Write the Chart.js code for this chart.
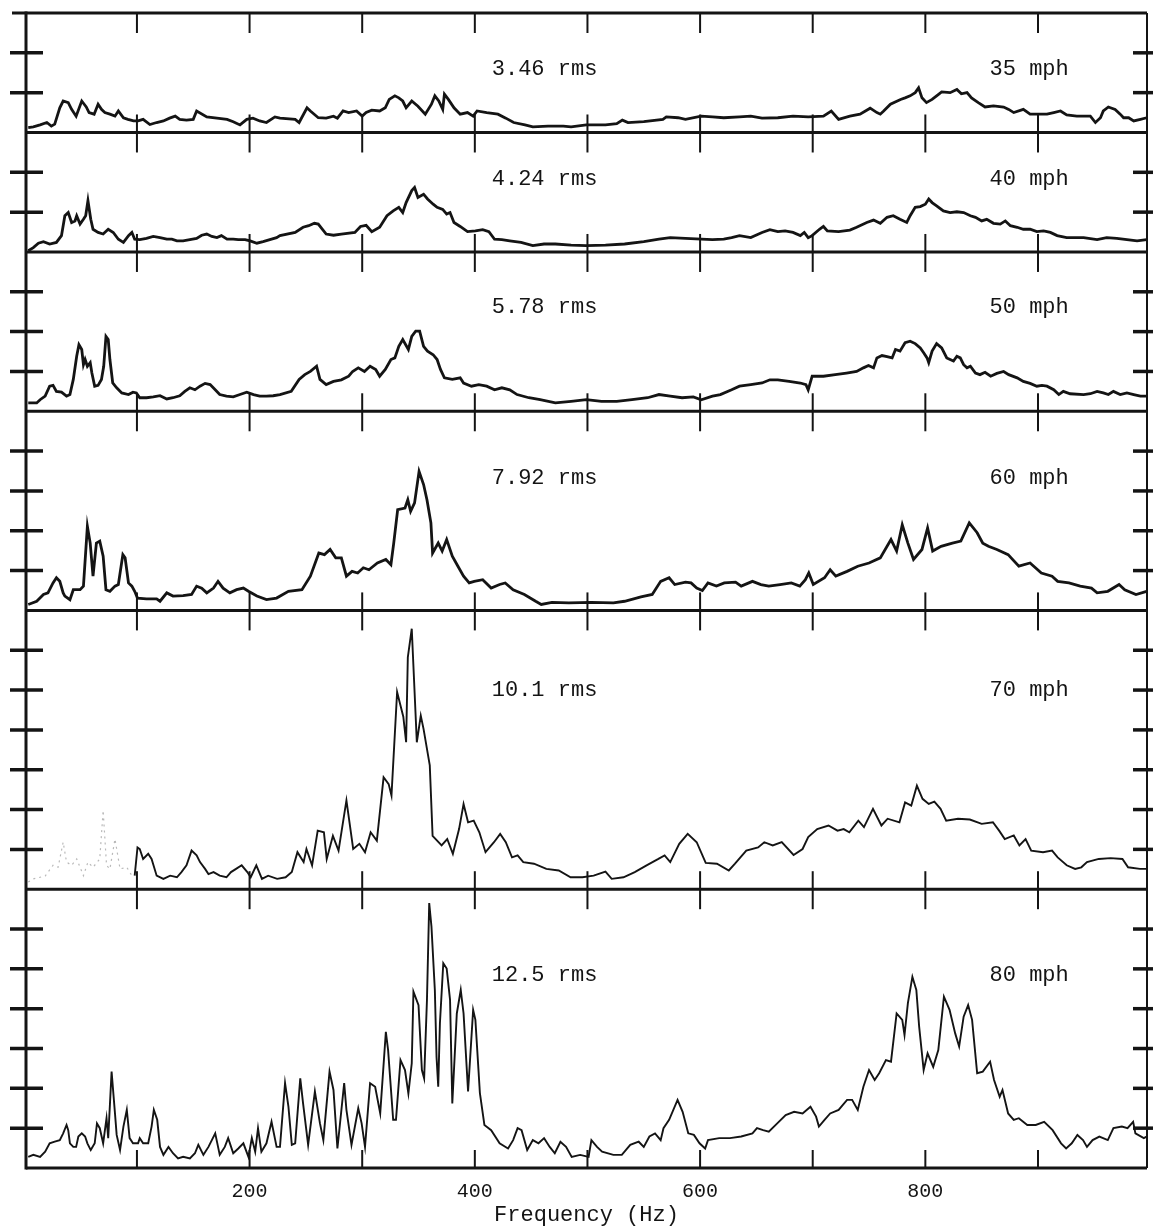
<!DOCTYPE html>
<html>
<head>
<meta charset="utf-8">
<title>Vibration spectra</title>
<script src="https://cdn.jsdelivr.net/npm/chart.js@4.4.1/dist/chart.umd.min.js"></script>
<style>
  html, body { margin: 0; padding: 0; background: #fff; }
  canvas { display: block; }
</style>
</head>
<body>
<canvas id="spectra" width="1153" height="1229"></canvas>
<script>
// One trace per road speed: [frequency (Hz), amplitude in chart divisions]
const trace35 = [[3.5,0.12],[8,0.14],[14,0.19],[20,0.25],[24,0.16],[27,0.21],[31.5,0.62],[34.5,0.79],[39,0.75],[42,0.58],[46,0.41],[51,0.79],[55,0.64],[57.5,0.5],[62,0.46],[65.5,0.71],[68.5,0.58],[71.5,0.5],[76,0.46],[80.5,0.41],[83.5,0.54],[88,0.37],[92,0.33],[97,0.29],[101,0.29],[105.5,0.33],[111.5,0.2],[117.5,0.25],[123.5,0.29],[129,0.36],[134,0.41],[138,0.33],[144,0.31],[150,0.33],[153,0.54],[162,0.39],[171,0.36],[180,0.33],[185.5,0.27],[191.5,0.19],[197.5,0.33],[203,0.36],[209,0.29],[215,0.25],[222.5,0.39],
  [227,0.36],[240.5,0.33],[244,0.25],[251,0.62],[254,0.54],[261,0.37],[268,0.36],[274.5,0.41],[278,0.36],[283,0.54],[288,0.5],[295,0.54],[300,0.41],[303.5,0.5],[308.5,0.56],[315.5,0.54],[320.5,0.62],[324,0.83],[329,0.92],[332.5,0.87],[336,0.79],[339,0.62],[344,0.79],[349.5,0.66],[356,0.46],[361.5,0.71],[364.5,0.92],[368,0.79],[371.5,0.58],[373,0.96],[376.5,0.83],[381.5,0.62],[387,0.46],[393.5,0.5],[398.5,0.41],[402,0.54],[410.5,0.5],[420.5,0.46],[427.5,0.36],[434.5,0.25],[444.5,0.19],[451.5,0.14],[465,0.16],[478.5,0.16],[485.5,0.14],[499,0.19],[516,0.19],[526,0.22],[531,0.31],[536,0.25],[550,0.27],[567,0.33],[570,0.39],[580.5,0.37],[587,0.33],[601,0.41],[611,0.39],[621,0.37],[635,0.39],[645,0.41],[655,0.36],[669,0.37],[682.5,0.41],[696,0.39],[709.5,0.41],[716.5,0.54],[723,0.33],
  [733,0.41],[742,0.46],[751,0.61],[757,0.5],[760,0.46],[763,0.54],[769,0.71],[778,0.83],[782,0.87],[786.5,0.92],[791,1.0],[794,1.12],[797,0.87],[801,0.75],[806,0.83],[810,0.92],[814.5,1.02],[822,1.0],[828,1.08],[832,0.97],[837,1.0],[841,0.87],[847,0.75],[853,0.64],[860.5,0.67],[869.5,0.64],[874,0.58],[878.5,0.5],[887,0.58],[893,0.46],[902,0.46],[908,0.46],[914,0.5],[920,0.54],[925.5,0.44],[934.5,0.41],[946.5,0.41],[951,0.25],[955.5,0.37],[958,0.54],[962.5,0.64],[968.5,0.58],[973,0.46],[976,0.37],[980.5,0.37],[985,0.29],[991,0.33],[996.5,0.37]];

const trace40 = [[3.5,0.03],[8,0.11],[12.5,0.22],[17,0.26],[22.5,0.2],[28.5,0.24],[33,0.41],[36,0.91],[39,0.99],[42,0.74],[45,0.78],[46.5,0.91],[49.5,0.7],[52.5,0.82],[54.5,0.91],[56.5,1.29],[59,0.82],[61,0.57],[65.5,0.49],[70,0.45],[74.5,0.57],[79,0.49],[83.5,0.32],[88,0.24],[92.5,0.41],[95.5,0.49],[98,0.32],[102.5,0.31],[108.5,0.34],[114.5,0.39],[120.5,0.36],[126.5,0.32],[131,0.32],[135.5,0.28],[141,0.28],[147,0.31],[153,0.34],[157.5,0.42],[162,0.45],[166.5,0.39],[171,0.36],[175,0.41],[180,0.32],[185.5,0.32],[190,0.31],[196,0.31],[200.5,0.28],[206.5,0.22],[212,0.26],[218,0.31],[224,0.36],
  [227,0.41],[240.5,0.49],[247.5,0.62],[252.5,0.66],[257.5,0.72],[261,0.7],[268,0.45],[274.5,0.42],[281.5,0.45],[293.5,0.49],[298.5,0.64],[303.5,0.67],[308.5,0.51],[315.5,0.62],[322,0.91],[327.5,1.03],[332.5,1.12],[336,0.99],[339,1.24],[344,1.54],[346.5,1.62],[349.5,1.37],[354.5,1.45],[358,1.33],[363,1.2],[366.5,1.12],[371.5,1.07],[375,0.95],[378,0.99],[381.5,0.74],[387,0.64],[393.5,0.51],[400.5,0.53],[407,0.56],[412.5,0.51],[417.5,0.32],[424,0.31],[431,0.28],[441,0.24],[451.5,0.16],[461.5,0.2],[471.5,0.2],[485.5,0.17],[499,0.16],[516,0.17],[533,0.2],[550,0.26],[563.5,0.32],[573.5,0.36],[587,0.34],[601,0.32],[611,0.31],[621,0.32],[628,0.36],[635,0.41],[645,0.36],[655,0.49],[662,0.56],[669,0.51],[675.5,0.53],[682.5,0.49],[689,0.41],[692.5,0.49],[696,0.36],[699.5,0.41],[706,0.57],[709.5,0.64],[713,0.53],[723,0.51],
  [733,0.55],[739,0.62],[748,0.74],[754,0.8],[760,0.72],[766,0.87],[771.5,0.91],[777.5,0.82],[783.5,0.74],[786.5,0.91],[791,1.12],[795.5,1.14],[800,1.2],[803,1.33],[806,1.24],[810,1.16],[816,1.03],[822,0.99],[828,1.01],[834,0.99],[840,0.91],[844.5,0.87],[850,0.78],[854.5,0.82],[860.5,0.72],[866.5,0.7],[871,0.78],[875.5,0.66],[881.5,0.62],[887,0.57],[893,0.57],[899,0.51],[905,0.53],[911,0.49],[917,0.41],[925.5,0.36],[940.5,0.36],[952.5,0.31],[961,0.36],[970,0.34],[979,0.31],[988,0.28],[996.5,0.31]];

const trace50 = [[3.5,0.21],[11,0.21],[14,0.29],[18.5,0.38],[22.5,0.63],[25.5,0.65],[28.5,0.5],[33,0.48],[37.5,0.38],[40.5,0.42],[43.5,0.8],[46.5,1.38],[48.5,1.67],[51,1.55],[52.5,1.17],[54,1.3],[56,1.13],[58.5,1.22],[60,0.96],[62.5,0.63],[65.5,0.65],[68.5,0.8],[70.5,1.13],[72.5,1.88],[74.5,1.8],[76,1.3],[78.5,0.71],[82,0.59],[86.5,0.46],[92.5,0.42],[96.5,0.48],[99.5,0.46],[102.5,0.34],[108.5,0.34],[114.5,0.36],[120.5,0.39],[126.5,0.31],[132,0.34],[138,0.39],[142.5,0.5],[147,0.59],[151.5,0.54],[156,0.63],[160.5,0.7],[165,0.67],[169.5,0.54],[173.5,0.42],[179.5,0.38],[185.5,0.36],[191.5,0.42],[197.5,0.48],[203.5,0.42],[209,0.38],[215,0.38],[221,0.39],
  [227,0.42],[237,0.5],[244,0.8],[249,0.92],[254,1.0],[259.5,1.13],[262.5,0.8],[268,0.67],[274.5,0.75],[281.5,0.79],[288,0.88],[291.5,1.0],[296.5,1.09],[302,1.0],[307,1.13],[312,1.05],[315.5,0.88],[320.5,1.05],[325.5,1.3],[329,1.34],[332.5,1.63],[336,1.8],[341,1.55],[344,1.88],[347.5,2.01],[351,2.01],[354.5,1.63],[358,1.51],[363,1.42],[366.5,1.3],[369.5,1.05],[373,0.84],[380,0.8],[387,0.84],[390,0.71],[397,0.63],[403.5,0.67],[410.5,0.63],[417.5,0.54],[424,0.59],[431,0.54],[437.5,0.42],[448,0.34],[458,0.29],[471.5,0.21],[485.5,0.25],[499,0.29],[512.5,0.25],[526,0.25],[539.5,0.29],[553.5,0.34],[563.5,0.42],[573.5,0.38],[584,0.34],[594,0.36],[601,0.29],[611,0.38],[618,0.42],[628,0.54],[635,0.63],[645,0.67],[655,0.71],[662,0.79],[669,0.79],[679,0.75],[689,0.71],[694,0.67],[696,0.54],[699.5,0.88],[709.5,0.88],[720,0.92],[730,0.96],
  [739,1.0],[745,1.09],[749.5,1.15],[754,1.09],[757,1.34],[761.5,1.4],[766,1.37],[770.5,1.34],[773.5,1.55],[777.5,1.51],[782,1.72],[786.5,1.76],[791,1.7],[795.5,1.59],[798.5,1.47],[801.5,1.34],[803,1.22],[806,1.51],[810,1.7],[814.5,1.59],[819,1.34],[822,1.3],[825,1.26],[828,1.38],[831,1.34],[834,1.17],[837,1.09],[840,1.13],[844.5,0.96],[848.5,0.92],[853,0.98],[858,0.88],[863.5,0.95],[869.5,1.0],[874,0.92],[881.5,0.84],[887,0.75],[893,0.7],[899,0.63],[903.5,0.65],[908,0.63],[914,0.54],[918.5,0.42],[922.5,0.5],[928.5,0.44],[940.5,0.42],[946.5,0.44],[952.5,0.5],[958,0.46],[962.5,0.42],[967,0.5],[973,0.42],[979,0.46],[985,0.42],[991,0.38],[996.5,0.38]];

const trace60 = [[3.5,0.15],[11,0.23],[17,0.4],[21,0.44],[25.5,0.69],[28.5,0.82],[31.5,0.73],[34.5,0.44],[36,0.36],[40.5,0.27],[43.5,0.52],[49.5,0.52],[52.5,0.61],[56,2.11],[58.5,1.69],[61,0.86],[64,1.69],[67,1.74],[70,1.36],[72.5,0.52],[76,0.48],[80.5,0.61],[83.5,0.65],[87.5,1.4],[89.5,1.32],[92.5,0.69],[95.5,0.61],[98,0.48],[100.5,0.31],[108.5,0.29],[117.5,0.29],[120.5,0.23],[126.5,0.44],[132,0.36],[141,0.37],[148.5,0.4],[153,0.61],[157.5,0.56],[162,0.44],[168,0.56],[172,0.73],[176.5,0.56],[182.5,0.44],[188.5,0.52],[194.5,0.56],[199,0.48],[206.5,0.36],[215,0.27],[224,0.31],
  [234.5,0.48],[246.5,0.52],[254,0.86],[261.5,1.44],[266.5,1.4],[271.5,1.53],[276.5,1.32],[281.5,1.32],[286,0.86],[291,0.98],[296,0.94],[301,1.07],[306,1.02],[313.5,1.19],[321,1.28],[325.5,1.15],[328,1.69],[331.5,2.53],[338,2.57],[340.5,2.78],[343,2.49],[346.5,2.7],[350.5,3.49],[354.5,3.16],[357.5,2.78],[361,2.2],[362.5,1.44],[367.5,1.69],[371,1.49],[375,1.78],[380,1.36],[385,1.11],[390,0.86],[395,0.69],[399.5,0.73],[407,0.77],[414.5,0.56],[422,0.65],[427,0.69],[434,0.52],[444,0.4],[454,0.23],[459,0.15],[468.5,0.2],[483.5,0.19],[503.5,0.2],[523,0.19],[533,0.23],[547.5,0.34],[557.5,0.4],[565,0.73],[572.5,0.82],[577.5,0.65],[587,0.71],[592,0.69],[597,0.56],[602,0.5],[607,0.69],[614.5,0.61],[621.5,0.69],[631.5,0.71],[636.5,0.61],[646.5,0.73],[654,0.65],[661,0.61],[671,0.65],[681,0.69],[688.5,0.61],[693.5,0.77],[696.5,0.94],[700.5,0.65],[710.5,0.82],[715.5,1.02],[720.5,0.86],[730.5,0.98],[740,1.11],[750,1.19],[760,1.32],[769.5,1.78],[774.5,1.49],[779.5,2.15],[784.5,1.69],[789.5,1.28],[797,1.53],[802,2.07],[806.5,1.49],[814,1.61],[824,1.69],[831.5,1.74],[839,2.2],[846,1.95],[851,1.69],[856,1.61],[863.5,1.53],[873.5,1.4],[883,1.11],[893,1.19],[903,0.94],[912.5,0.86],[917.5,0.73],[927.5,0.69],[937.5,0.61],[947.5,0.56],[952.5,0.44],[962,0.48],[972,0.65],[977,0.52],[987,0.4],[996.5,0.48]];

const trace70 = [[3.5,0.18],[8,0.26],[14,0.3],[18.5,0.33],[25.5,0.6],[30,0.55],[34.5,1.18],[37.5,0.68],[42,0.6],[46.5,0.76],[52.5,0.34],[56.5,0.68],[61,0.55],[67,0.76],[70,1.98],[73,0.6],[76,0.51],[80.5,1.26],[85,0.51],[91,0.55],[95.5,0.34],[98,0.34],[100.5,1.05],[102.5,1.01],[105.5,0.76],[110,0.89],[113,0.76],[117.5,0.34],[123.5,0.26],[129.5,0.34],[135.5,0.3],[139.5,0.43],[144,0.6],[148.5,0.97],[153,0.85],[156,0.68],[160.5,0.51],[163.5,0.38],[168,0.43],[173.5,0.34],[179.5,0.3],
  [183.5,0.43],[188,0.51],[193,0.6],[198,0.43],[201,0.3],[206,0.6],[211,0.26],[216.5,0.34],[224.5,0.26],[232,0.3],[237.5,0.43],[242.5,0.93],[248,0.68],[250.5,1.01],[255.5,0.6],[260.5,1.47],[266,1.43],[268.5,0.76],[274,1.34],[279,0.97],[286,2.23],[292,1.01],[297.5,1.14],[302.5,0.93],[307.5,1.43],[313,1.22],[319,2.81],[323.5,2.64],[326,2.35],[331,4.95],[336.5,4.33],[339,3.69],[340.5,5.82],[344,6.54],[348.5,3.69],[352,4.36],[354.5,4.02],[360,3.11],[362.5,1.34],[370.5,1.1],[375.5,1.26],[380.5,0.89],[386,1.51],[390,2.14],[394,1.68],[399,1.72],[404,1.43],[409.5,0.93],[417,1.18],[422.5,1.39],[427.5,1.18],[433,0.8],[438,0.85],[443,0.68],[452.5,0.64],[463.5,0.51],[474.5,0.47],[485,0.3],[495.5,0.3],[505.5,0.34],[516,0.44],[521.5,0.26],[532,0.3],[542,0.43],[552.5,0.6],[563,0.76],[568.5,0.85],[573.5,0.68],[581.5,1.14],[589,1.39],[597,1.18],[605,0.66],[615,0.64],[625.5,0.47],[631,0.64],[641,0.97],[651.5,1.05],[657,1.18],[664.5,1.1],[672.5,1.18],[683,0.86],[691,1.01],[696,1.31],[704,1.51],[714,1.6],[722,1.47],[727.5,1.51],[732.5,1.43],[740.5,1.72],[745.5,1.56],[753.5,2.02],[761,1.6],[766.5,1.77],[777,1.68],[782,2.18],[787.5,2.1],[792.5,2.6],[797.5,2.27],[803,2.14],[808,2.2],[813.5,2.02],[818.5,1.72],[829,1.77],[839.5,1.75],[850,1.64],[860,1.68],[865.5,1.47],[870.5,1.26],[878.5,1.35],[883.5,1.1],[889,1.26],[894,0.97],[904.5,0.93],[912.5,0.97],[917.5,0.8],[925.5,0.6],[933,0.51],[938.5,0.55],[943.5,0.68],[954,0.76],[964.5,0.78],[975,0.76],[980,0.55],[990.5,0.51],[996.5,0.51]];

const trace80 = [[3.5,0.28],[8,0.33],[14,0.28],[18.5,0.41],[22.5,0.62],[27,0.66],[31.5,0.7],[34.5,0.87],[37.5,1.08],[39,0.95],[40.5,0.62],[43.5,0.53],[46,0.53],[48,0.79],[51,0.87],[54,0.79],[56,0.62],[59,0.45],[62.5,0.62],[64.5,1.12],[67,1.0],[70,0.62],[73,1.25],[74.5,0.75],[77.5,2.42],[80.5,1.37],[82,0.83],[85,0.45],[88,1.04],[91,1.46],[93.5,0.75],[96.5,0.62],[101,0.62],[102.5,0.75],[105.5,0.62],[110,0.62],[113,1.04],[115,1.46],[118,1.21],[120.5,0.53],[123.5,0.33],[128,0.53],[132,0.37],[136.5,0.24],[141,0.28],[147,0.24],[151.5,0.37],[154.5,0.58],[159,0.33],[163.5,0.53],[169.5,0.87],[173.5,0.33],[178,0.53],[181,0.75],[185.5,0.37],[190,0.49],[194.5,0.62],[199,0.28],[202,0.75],[205,0.41],[207.5,1.0],[210.5,0.41],[215,0.62],[219.5,1.16],[224,0.53],
  [227,0.53],[231.5,2.13],[234.5,1.54],[237.5,0.58],[240.5,0.62],[245,2.25],[247.5,1.62],[252,0.58],[258,1.92],[262.5,1.12],[265.5,0.7],[271,2.42],[274.5,1.96],[278,0.49],[284,2.13],[286,1.46],[290.5,0.58],[296.5,1.5],[299.5,1.12],[302.5,0.53],[307,2.13],[311.5,2.04],[316,1.37],[321,3.42],[323,2.96],[327.5,1.21],[330,1.21],[334,2.71],[338,2.46],[341,1.87],[344,2.63],[345.5,4.43],[350,4.09],[353,2.46],[355,2.25],[357.5,4.22],[359.5,6.65],[361.5,6.06],[364.5,4.47],[366,2.79],[367.5,2.04],[369,3.63],[372,5.14],[375,5.01],[378,4.22],
  [380,1.62],[384,3.88],[387.5,4.47],[390,3.88],[394,1.92],[398.5,3.97],[400.5,3.72],[404.5,1.88],[408.5,1.08],[414.5,0.95],[422,0.62],[429.5,0.49],[434,0.7],[438,1.0],[441.5,0.95],[446.5,0.45],[451.5,0.7],[456.5,0.62],[461.5,0.75],[466.5,0.53],[471,0.37],[476,0.66],[481,0.53],[486,0.28],[493.5,0.33],[501,0.28],[503.5,0.7],[508.5,0.53],[513,0.41],[523,0.33],[530.5,0.33],[538,0.58],[545.5,0.66],[550,0.53],[555,0.79],[560,0.87],[565,0.7],[567.5,1.0],[572.5,1.21],[580,1.71],[584.5,1.41],[589.5,0.87],[594.5,0.83],[599.5,0.62],[604.5,0.49],[607,0.7],[617,0.75],[626.5,0.75],[636.5,0.79],[646.5,0.87],[650.5,1.0],[656,0.95],[661,0.91],[668.5,1.12],[676,1.33],[683.5,1.41],[691,1.37],[698,1.54],[703,1.29],[705.5,1.04],[710.5,1.21],[715.5,1.37],[723,1.46],[730.5,1.71],[735,1.71],[740,1.46],[745,2.04],[750,2.46],[755,2.21],[759,2.38],[765,2.71],[769.5,2.67],[774.5,3.88],[779.5,3.72],[781.5,3.34],[784.5,4.14],[788.5,4.8],[792,4.47],[794.5,3.55],[798.5,2.46],[802,2.88],[807,2.54],[811.5,2.96],[816.5,4.3],[821.5,3.97],[826.5,3.38],[830,3.05],[834,3.8],[838,4.09],[841.5,3.72],[846,2.38],[851,2.42],[857.5,2.67],[861,2.21],[866,1.79],[868.5,1.96],[873.5,1.37],[878.5,1.21],[883,1.25],[890.5,1.08],[898,1.08],[905.5,1.16],[913,0.95],[920.5,0.62],[925,0.49],[930,0.62],[935,0.83],[940,0.7],[943.5,0.53],[948.5,0.7],[954.5,0.79],[962,0.7],[967,1.0],[974.5,1.04],[979.5,1.0],[984.5,1.16],[986.5,0.87],[994,0.75],[996.5,0.79]];

const speeds = ['35 mph', '40 mph', '50 mph', '60 mph', '70 mph', '80 mph'];
const rmsLevels = ['3.46 rms', '4.24 rms', '5.78 rms', '7.92 rms', '10.1 rms', '12.5 rms'];
const panelDivisions = [3, 3, 4, 5, 7, 7];
const freqTicks = [100, 200, 300, 400, 500, 600, 700, 800, 900];
const freqLabels = [200, 400, 600, 800];

const traces = [trace35, trace40, trace50, trace60, trace70, trace80];

// where the caption text sits in each panel, in divisions above the baseline
const captionLevel = [1.44, 1.69, 2.48, 3.18, 4.85, 4.69];
// the 70 mph trace drops out below ~98 Hz and shows only as a faint broken line
const faintBelow = 98;

const INK = '#141414';
const MONO = '"Liberation Mono", "DejaVu Sans Mono", monospace';

function seg(ctx, x1, y1, x2, y2) {
  ctx.beginPath();
  ctx.moveTo(x1, y1);
  ctx.lineTo(x2, y2);
  ctx.stroke();
}

// frame, panel baselines, tick marks and captions
const framePlugin = {
  id: 'frame',
  afterDatasetsDraw(chart) {
    const { ctx, chartArea: a, scales } = chart;
    const xs = scales.x;
    ctx.save();
    ctx.strokeStyle = INK;
    ctx.fillStyle = INK;
    ctx.lineCap = 'butt';

    ctx.lineWidth = 3;
    seg(ctx, a.left - 14, a.top, a.right, a.top);
    seg(ctx, a.left, a.top - 1.5, a.left, a.bottom + 1.5);
    ctx.lineWidth = 2;
    seg(ctx, a.right, a.top, a.right, a.bottom);

    traces.forEach((t, i) => {
      const s = scales['p' + i];
      const yBase = s.getPixelForValue(0);
      const yTop = s.getPixelForValue(s.max);

      ctx.lineWidth = 3;
      seg(ctx, a.left, yBase, a.right, yBase);

      ctx.lineWidth = 3.5;
      for (let v = 1; v < s.max; v++) {
        const y = s.getPixelForValue(v);
        seg(ctx, a.left - 16, y, a.left + 17, y);
        seg(ctx, a.right - 14, y, a.right + 6, y);
      }

      ctx.lineWidth = 2;
      freqTicks.forEach(f => {
        const x = xs.getPixelForValue(f);
        seg(ctx, x, yTop, x, yTop + 20);
        seg(ctx, x, yBase, x, yBase - 18);
      });

      ctx.font = '22px ' + MONO;
      ctx.textBaseline = 'alphabetic';
      ctx.textAlign = 'left';
      const yText = s.getPixelForValue(captionLevel[i]);
      ctx.fillText(rmsLevels[i], xs.getPixelForValue(415), yText);
      ctx.fillText(speeds[i], xs.getPixelForValue(857), yText);
    });
    ctx.restore();
  }
};

const scales = {
  x: {
    type: 'linear',
    position: 'bottom',
    min: 1.5,
    max: 996.8,
    grid: { display: false, drawTicks: false },
    border: { display: false },
    afterBuildTicks(s) { s.ticks = freqTicks.map(v => ({ value: v })); },
    ticks: {
      autoSkip: false,
      maxRotation: 0,
      padding: 12,
      color: INK,
      font: { family: MONO, size: 20 },
      callback: v => freqLabels.includes(v) ? String(v) : ''
    },
    title: {
      display: true,
      text: 'Frequency (Hz)',
      color: INK,
      font: { family: MONO, size: 22 },
      padding: { top: 0, bottom: 1 }
    },
    afterFit(s) { s.height = 61; }
  }
};

// one stacked y axis per panel, top panel first
traces.forEach((t, i) => {
  scales['p' + i] = {
    type: 'linear',
    position: 'left',
    stack: 'panels',
    stackWeight: panelDivisions[i],
    weight: traces.length - i,
    min: 0,
    max: panelDivisions[i],
    grid: { display: false, drawTicks: false },
    border: { display: false },
    ticks: { display: false },
    afterFit(s) { s.width = 26; }
  };
});

new Chart(document.getElementById('spectra'), {
  type: 'line',
  data: {
    datasets: traces.map((t, i) => ({
      label: speeds[i],
      data: t.map(([x, y]) => ({ x, y })),
      yAxisID: 'p' + i,
      borderColor: INK,
      borderWidth: i < 4 ? 2.8 : 1.9,
      pointRadius: 0,
      tension: 0,
      segment: i === 4 ? {
        borderColor: c => c.p1.parsed.x <= faintBelow ? '#b9b9b9' : undefined,
        borderWidth: c => c.p1.parsed.x <= faintBelow ? 1.2 : undefined,
        borderDash: c => c.p1.parsed.x <= faintBelow ? [2, 4] : undefined
      } : undefined
    }))
  },
  options: {
    responsive: false,
    devicePixelRatio: 1,
    animation: false,
    layout: { padding: { top: 13, right: 6, left: 0, bottom: 0 } },
    plugins: { legend: { display: false }, tooltip: { enabled: false } },
    scales
  },
  plugins: [framePlugin]
});
</script>
</body>
</html>
